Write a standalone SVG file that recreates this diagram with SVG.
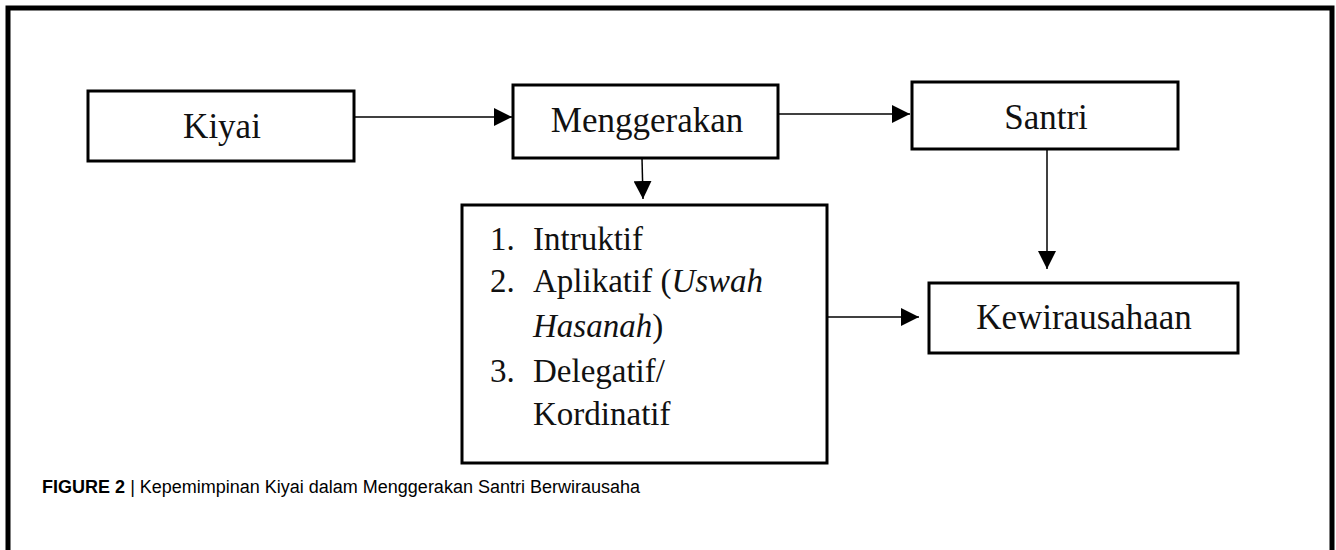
<svg xmlns="http://www.w3.org/2000/svg" width="1336" height="550" viewBox="0 0 1336 550">
<defs>
<style>
.box{fill:#fff;stroke:#000;stroke-width:3}
.lbl{font-family:"Liberation Serif","Times New Roman",serif;font-size:35px;fill:#111}
.lst{font-family:"Liberation Serif","Times New Roman",serif;font-size:33px;fill:#111}
.con{stroke:#000;stroke-width:1.5;fill:none}
.cap{font-family:"Liberation Sans",Arial,sans-serif;font-size:18px;fill:#000}
</style>
<marker id="ah" viewBox="0 0 10 10" refX="10" refY="5" markerWidth="18" markerHeight="18" markerUnits="userSpaceOnUse" orient="auto">
<path d="M0,0 L10,5 L0,10 z" fill="#000"/>
</marker>
</defs>
<rect width="1336" height="550" fill="#fff"/>
<path d="M8,550 V8 H1332 V550" fill="none" stroke="#000" stroke-width="5"/>
<g id="connectors">
<line class="con" x1="354" y1="117" x2="512" y2="117" marker-end="url(#ah)"/>
<line class="con" x1="778" y1="114" x2="910" y2="114" marker-end="url(#ah)"/>
<line class="con" x1="642" y1="158" x2="643" y2="199" marker-end="url(#ah)"/>
<line class="con" x1="1047" y1="149" x2="1047" y2="269" marker-end="url(#ah)"/>
<line class="con" x1="827" y1="317" x2="919" y2="317" marker-end="url(#ah)"/>
</g>
<g id="kiyai">
<rect class="box" x="88" y="91" width="266" height="70"/>
<text class="lbl" x="222" y="138" text-anchor="middle">Kiyai</text>
</g>
<g id="menggerakan">
<rect class="box" x="513" y="85" width="265" height="73"/>
<text class="lbl" x="647" y="132" text-anchor="middle">Menggerakan</text>
</g>
<g id="santri">
<rect class="box" x="912" y="82" width="266" height="67"/>
<text class="lbl" x="1046" y="129" text-anchor="middle">Santri</text>
</g>
<g id="list">
<rect class="box" x="462" y="205" width="365" height="258"/>
<text class="lst" x="490" y="250">1.</text>
<text class="lst" x="533" y="250">Intruktif</text>
<text class="lst" x="490" y="292">2.</text>
<text class="lst" x="533" y="292">Aplikatif (<tspan font-style="italic">Uswah</tspan></text>
<text class="lst" x="533" y="337"><tspan font-style="italic">Hasanah</tspan>)</text>
<text class="lst" x="490" y="382">3.</text>
<text class="lst" x="533" y="382">Delegatif/</text>
<text class="lst" x="533" y="425">Kordinatif</text>
</g>
<g id="kewirausahaan">
<rect class="box" x="929" y="283" width="309" height="70"/>
<text class="lbl" x="1084" y="329" text-anchor="middle">Kewirausahaan</text>
</g>
<g id="caption">
<text class="cap" x="42" y="493"><tspan font-weight="bold">FIGURE 2</tspan> <tspan font-style="italic">|</tspan> Kepemimpinan Kiyai dalam Menggerakan Santri Berwirausaha</text>
</g>
</svg>
